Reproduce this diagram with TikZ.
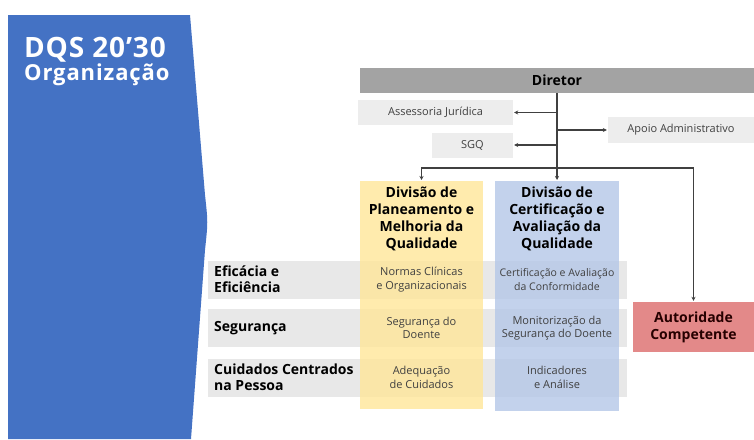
\documentclass[tikz,border=0pt]{standalone}
\usepackage{fontspec}
\setmainfont{Open Sans}
\usetikzlibrary{arrows.meta,positioning}
\definecolor{panelblue}{HTML}{4472C4}
\definecolor{dirgray}{HTML}{A3A3A3}
\definecolor{boxgray}{HTML}{EDEDED}
\definecolor{rowgray}{HTML}{E8E8E8}
\definecolor{colyellow}{HTML}{FFE699}
\definecolor{colblue}{HTML}{B4C7E7}
\definecolor{redbox}{HTML}{E38989}
\definecolor{linegray}{HTML}{404040}
\definecolor{txtgray}{HTML}{404040}

\begin{document}
\begin{tikzpicture}[x=1pt,y=-1pt,
 conn/.style={draw=linegray, line width=1.3pt},
 arr/.style={conn, -{Stealth[length=4pt,width=4pt]}, shorten >=1pt},
 big/.style={font=\bfseries\fontsize{14}{17}\selectfont, align=center, inner sep=0pt},
 rowlabel/.style={big, align=left, anchor=west, font=\bfseries\fontsize{14}{16}\selectfont},
 small/.style={font=\fontsize{11}{13.5}\selectfont, text=txtgray, align=center, inner sep=0pt},
 gbox/.style={small, fill=boxgray, minimum height=25pt},
 rowbox/.style={fill=rowgray, minimum width=419pt, minimum height=38pt, inner sep=0pt},
 colbox/.style={fill opacity=0.8, inner sep=0pt, anchor=north}]
 \useasboundingbox (0,0) rectangle (754,439);
 % left panel
 \fill [panelblue] (8,15) -- (190,15) -- (205,195) .. controls (208,222) .. (205,250) -- (191,439) -- (8,439) -- cycle;
 \node [anchor=north west, text=white, align=left, inner sep=0pt] (title) at (24,37)
  {{\bfseries\fontsize{28}{30}\selectfont\addfontfeature{LetterSpace=3}DQS 20’30}\\[1pt]
   {\bfseries\fontsize{22}{24}\selectfont\addfontfeature{LetterSpace=4}Organização}};

 % rows (behind the columns)
 \node [rowbox] (r1) at (417.5,279.5) {};
 \node [rowbox] (r2) at (417.5,328) {};
 \node [rowbox] (r3) at (417.5,377.5) {};
 \node [colbox, fill=colyellow, minimum width=123pt, minimum height=228pt] (dp) at (421.5,181) {};
 \node [colbox, fill=colblue, minimum width=124pt, minimum height=230pt] (dc) at (557,181) {};

 % top of the chart
 \node [big, fill=dirgray, minimum width=394pt, minimum height=25pt] (dir) at (557,80.5) {Diretor};
 \node [gbox, minimum width=155pt] (aj) at (435.5,112.5) {Assessoria Jurídica};
 \node [gbox, minimum width=81pt] (sgq) at (472.5,145) {SGQ};
 \node [gbox, minimum width=146pt, minimum height=26pt] (apoio) at (681,130) {Apoio Administrativo};
 \node [big, fill=redbox, text=black!85!red, minimum width=121pt, minimum height=50pt] (ac) at (693.5,327) {Autoridade\\Competente};

 % divisions
 \node [big, below=6pt of dp.north] (dph) {Divisão de\\Planeamento e\\Melhoria da\\Qualidade};
 \node [big, below=6pt of dc.north] (dch) {Divisão de\\Certificação e\\Avaliação da\\Qualidade};

 % row labels
 \node [rowlabel] (l1) at (214,279.5) {Eficácia e\\Eficiência};
 \node [rowlabel] (l2) at (214,328) {Segurança};
 \node [rowlabel] (l3) at (214,377.5) {Cuidados Centrados\\na Pessoa};

 % cells
 \node [small] (c11) at (dp |- r1) {Normas Clínicas\\e Organizacionais};
 \node [small] (c21) at (dp |- r2) {Segurança do\\Doente};
 \node [small] (c31) at (dp |- r3) {Adequação\\de Cuidados};
 \node [small, font=\fontsize{10.5}{13.5}\selectfont] (c12) at (dc |- r1) {Certificação e Avaliação\\da Conformidade};
 \node [small] (c22) at (dc |- r2) {Monitorização da\\Segurança do Doente};
 \node [small] (c32) at (dc |- r3) {Indicadores\\e Análise};

 % connectors
 \coordinate (bus) at (557,168);
 \draw [conn] (dir.south) -- (bus);
 \draw [arr] (dir.south |- aj.east) -- (aj.east);
 \draw [arr] (dir.south |- sgq.east) -- (sgq.east);
 \draw [arr] (dir.south |- apoio.west) -- (apoio.west);
 \draw [arr] (bus) -| (dp.north);
 \draw [arr] (bus) -- (dc.north);
 \draw [arr] (bus) -| (ac.north);
\end{tikzpicture}
\end{document}
